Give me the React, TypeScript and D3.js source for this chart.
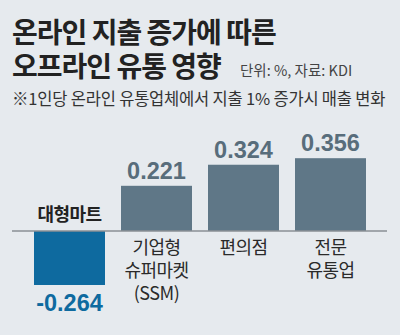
import React, { useRef, useEffect } from 'react';
import * as d3 from 'd3';

const categories = ['대형마트', '기업형 슈퍼마켓 (SSM)', '편의점', '전문 유통업'];
const categoryLines = [['대형마트'], ['기업형', '슈퍼마켓', '(SSM)'], ['편의점'], ['전문', '유통업']];
const values = [-0.264, 0.221, 0.324, 0.356];
const valueLabels = ['-0.264', '0.221', '0.324', '0.356'];
const titleLines = ['온라인 지출 증가에 따른', '오프라인 유통 영향'];
const unitNote = '단위: %, 자료: KDI';
const subtitle = '※1인당 온라인 유통업체에서 지출 1% 증가시 매출 변화';

const KR = '"Noto Sans CJK KR", sans-serif';
const NUM = '"Liberation Sans", Arial, sans-serif';

const App: React.FC = () => {
  const svgRef = useRef<SVGSVGElement | null>(null);

  useEffect(() => {
    document.body.style.margin = '0';
    const svg = d3.select(svgRef.current!);
    svg.selectAll('*').remove();

    svg.append('rect').attr('width', 400).attr('height', 335).attr('fill', '#e6eaee');

    // title, two lines in one text
    const title = svg.append('text')
      .attr('font-family', KR)
      .attr('font-weight', 700)
      .attr('font-size', 28)
      .attr('letter-spacing', -1)
      .attr('fill', '#222');
    title.selectAll('tspan')
      .data(titleLines)
      .enter()
      .append('tspan')
      .attr('x', 12)
      .attr('y', (d, i) => 43 + i * 34)
      .text((d) => d);

    svg.append('text')
      .attr('x', 240)
      .attr('y', 76)
      .attr('font-family', KR)
      .attr('font-size', 14.5)
      .attr('fill', '#444')
      .text(unitNote);

    svg.append('text')
      .attr('x', 12)
      .attr('y', 105)
      .attr('font-family', KR)
      .attr('font-size', 16.5)
      .attr('letter-spacing', -0.2)
      .attr('fill', '#333')
      .text(subtitle);

    const x = d3.scaleBand<string>()
      .domain(categories)
      .range([26, 374])
      .paddingInner(0.184)
      .paddingOuter(0.092);

    const y = d3.scaleLinear()
      .domain([-0.3, 0.4])
      .range([231 + 0.3 * 204.5, 231 - 0.4 * 204.5]);

    const data = categories.map((c, i) => ({ c, v: values[i], label: valueLabels[i], lines: categoryLines[i] }));

    svg.selectAll('rect.bar')
      .data(data)
      .enter()
      .append('rect')
      .attr('class', 'bar')
      .attr('x', (d) => x(d.c)!)
      .attr('width', x.bandwidth())
      .attr('y', (d) => y(Math.max(0, d.v)))
      .attr('height', (d) => Math.abs(y(d.v) - y(0)))
      .attr('fill', (d) => (d.v < 0 ? '#0e6a9f' : '#5f7787'));

    svg.append('line')
      .attr('x1', 12)
      .attr('x2', 387)
      .attr('y1', y(0))
      .attr('y2', y(0))
      .attr('stroke', '#8a8f94')
      .attr('stroke-width', 1.5);

    // value labels
    svg.selectAll('text.val')
      .data(data)
      .enter()
      .append('text')
      .attr('class', 'val')
      .attr('x', (d) => x(d.c)! + x.bandwidth() / 2)
      .attr('y', (d) => (d.v < 0 ? y(d.v) + 26 : y(d.v) - 7))
      .attr('text-anchor', 'middle')
      .attr('font-family', NUM)
      .attr('font-weight', 700)
      .attr('font-size', 23.5)
      .attr('fill', (d) => (d.v < 0 ? '#0e6a9f' : '#586d7b'))
      .text((d) => d.label);

    // category labels, one text per category with a tspan per line
    const cat = svg.selectAll('text.cat')
      .data(data)
      .enter()
      .append('text')
      .attr('class', 'cat')
      .attr('text-anchor', 'middle')
      .attr('font-family', KR)
      .attr('font-weight', (d) => (d.v < 0 ? 700 : 400))
      .attr('font-size', 18)
      .attr('letter-spacing', -0.5)
      .attr('fill', (d) => (d.v < 0 ? '#222' : '#2a2a2a'));

    cat.selectAll('tspan')
      .data((d) => d.lines.map((t, j) => ({ t, j, d })))
      .enter()
      .append('tspan')
      .attr('x', (e) => x(e.d.c)! + x.bandwidth() / 2)
      .attr('y', (e) => (e.d.v < 0 ? y(0) - 10 : y(0) + 23 + e.j * 23))
      .text((e) => e.t);
  }, []);

  return <svg ref={svgRef} width={400} height={335} style={{ display: 'block' }}></svg>;
};

export default App;
